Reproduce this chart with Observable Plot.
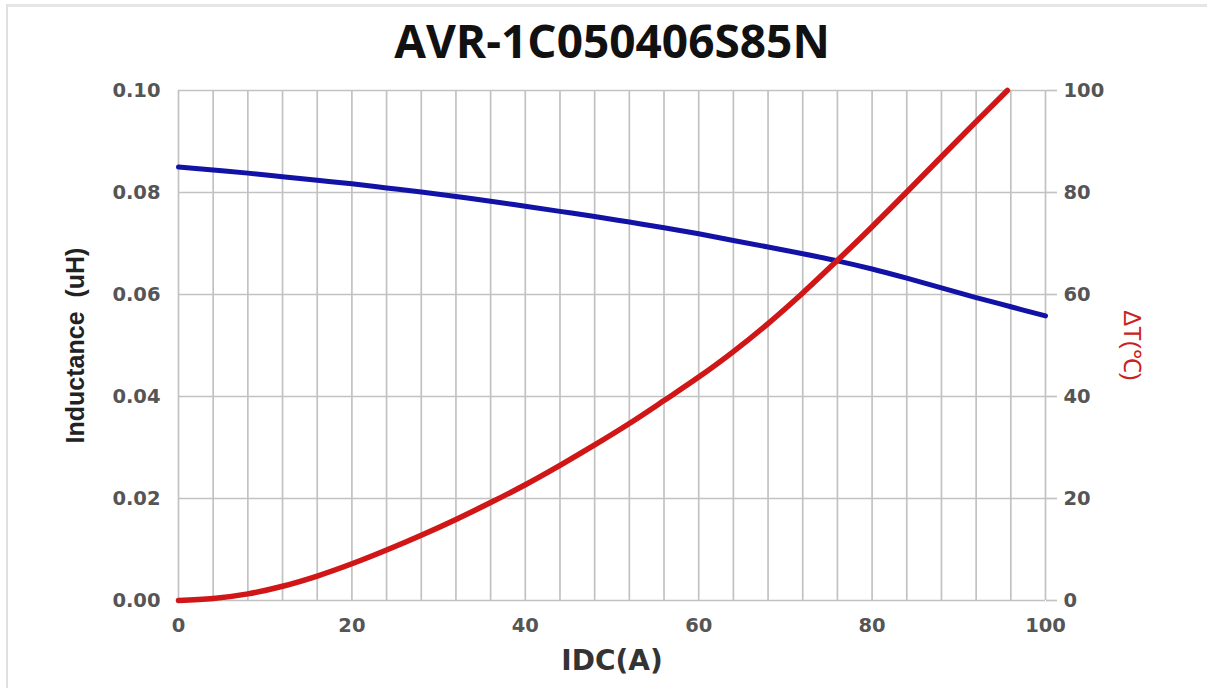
<!DOCTYPE html>
<html><head><meta charset="utf-8">
<script src="https://cdn.jsdelivr.net/npm/d3@7"></script>
<script src="https://cdn.jsdelivr.net/npm/@observablehq/plot@0.6"></script>
<style>
html,body{margin:0;padding:0;background:#fff;width:1207px;height:688px;overflow:hidden;}
#frame{position:absolute;left:6px;top:4px;right:0;bottom:0;border-left:2px solid #e0e0e0;border-top:3px solid #e6e6e6;pointer-events:none;}
#title{height:80px;display:flex;align-items:center;justify-content:center;font-family:"Open Sans";font-weight:700;font-size:46px;color:#111;padding-left:17px;box-sizing:border-box;}
#chart{height:608px;}
</style></head><body>
<div id="frame"></div>
<div id="title">AVR-1C050406S85N</div>
<div id="chart"></div>
<script>
// Inductance curve (IDC in A, inductance in uH)
const indCurrent = [0, 4, 8, 12, 16, 20, 24, 28, 32, 36, 40, 44, 48, 52, 56, 60, 64, 68, 72, 76, 80, 84, 88, 92, 96, 100];
const inductance = [0.0850, 0.0844, 0.0838, 0.0831, 0.0824, 0.0817, 0.0809, 0.0801, 0.0792, 0.0783, 0.0773, 0.0763, 0.0753, 0.0742, 0.0731, 0.0719, 0.0706, 0.0693, 0.0680, 0.0666, 0.0650, 0.0632, 0.0613, 0.0594, 0.0576, 0.0558];
// Temperature rise curve (IDC in A, ΔT in °C)
const tempCurrent = [0, 4, 8, 12, 16, 20, 24, 28, 32, 36, 40, 44, 48, 52, 56, 60, 64, 68, 72, 76, 80, 84, 88, 92, 95.6];
const deltaT = [0, 0.4, 1.3, 2.8, 4.8, 7.2, 9.9, 12.8, 15.9, 19.2, 22.7, 26.5, 30.5, 34.7, 39.2, 43.8, 48.8, 54.3, 60.3, 66.7, 73.3, 80.1, 87.0, 93.9, 100];
// Axis ticks
const xTickLabels = [0, 20, 40, 60, 80, 100];
const xGridLines = [0, 4, 8, 12, 16, 20, 24, 28, 32, 36, 40, 44, 48, 52, 56, 60, 64, 68, 72, 76, 80, 84, 88, 92, 96, 100];
const yLeftTicks = [0, 0.02, 0.04, 0.06, 0.08, 0.10];
const yRightTicks = [0, 20, 40, 60, 80, 100];

const indRows = indCurrent.map((a, i) => ({a, v: inductance[i]}));
// right axis 0–100 °C shares the pixel range of left axis 0–0.10 uH
const tRows = tempCurrent.map((a, i) => ({a, v: deltaT[i] / 1000}));

const chart = Plot.plot({
  width: 1207, height: 608,
  marginLeft: 178, marginRight: 162, marginTop: 10, marginBottom: 88,
  style: {fontFamily: "DejaVu Sans", fontWeight: "bold", fontSize: "19.5px", color: "#555", background: "#fff", overflow: "visible"},
  x: {domain: [0, 100]},
  y: {domain: [0, 0.1]},
  marks: [
    Plot.gridX(xGridLines, {stroke: "#c2c2c2", strokeWidth: 1.7, strokeOpacity: 1}),
    Plot.gridY(yLeftTicks, {stroke: "#c2c2c2", strokeWidth: 1.7, strokeOpacity: 1}),
    Plot.axisX(xTickLabels, {tickSize: 0, tickPadding: 18, label: null, tickFormat: d => String(d), fill: "#555"}),
    Plot.axisY(yLeftTicks, {anchor: "left", tickSize: 0, tickPadding: 18, label: null, tickFormat: d3.format(".2f"), fill: "#555"}),
    Plot.axisY(yRightTicks.map(d => d / 1000), {anchor: "right", tickSize: 11, tickPadding: 7, label: null, stroke: "#c2c2c2", strokeWidth: 1.7, fill: "#555", tickFormat: d => String(Math.round(d * 1000))}),
    Plot.line(indRows, {x: "a", y: "v", stroke: "#1212a6", strokeWidth: 5, curve: "monotone-x"}),
    Plot.line(tRows, {x: "a", y: "v", stroke: "#d01616", strokeWidth: 5.5, curve: "monotone-x"}),
    Plot.text(["IDC(A)"], {text: d => d, frameAnchor: "bottom", dy: 61, fontSize: 28, fontWeight: "bold", fontFamily: "DejaVu Sans", fill: "#333", lineAnchor: "middle"}),
    Plot.text(["Inductance  (uH)"], {text: d => d, frameAnchor: "left", dx: -103, rotate: -90, fontSize: 25, fontWeight: "bold", fontFamily: "Liberation Sans", fill: "#222", lineAnchor: "middle", textAnchor: "middle"}),
    Plot.text(["ΔT(℃)"], {text: d => d, frameAnchor: "right", dx: 86, rotate: 90, fontSize: 24, fontWeight: "normal", fontFamily: "Liberation Sans", fill: "#cc2020", lineAnchor: "middle", textAnchor: "middle"})
  ]
});
document.getElementById("chart").appendChild(chart);
</script>
</body></html>
